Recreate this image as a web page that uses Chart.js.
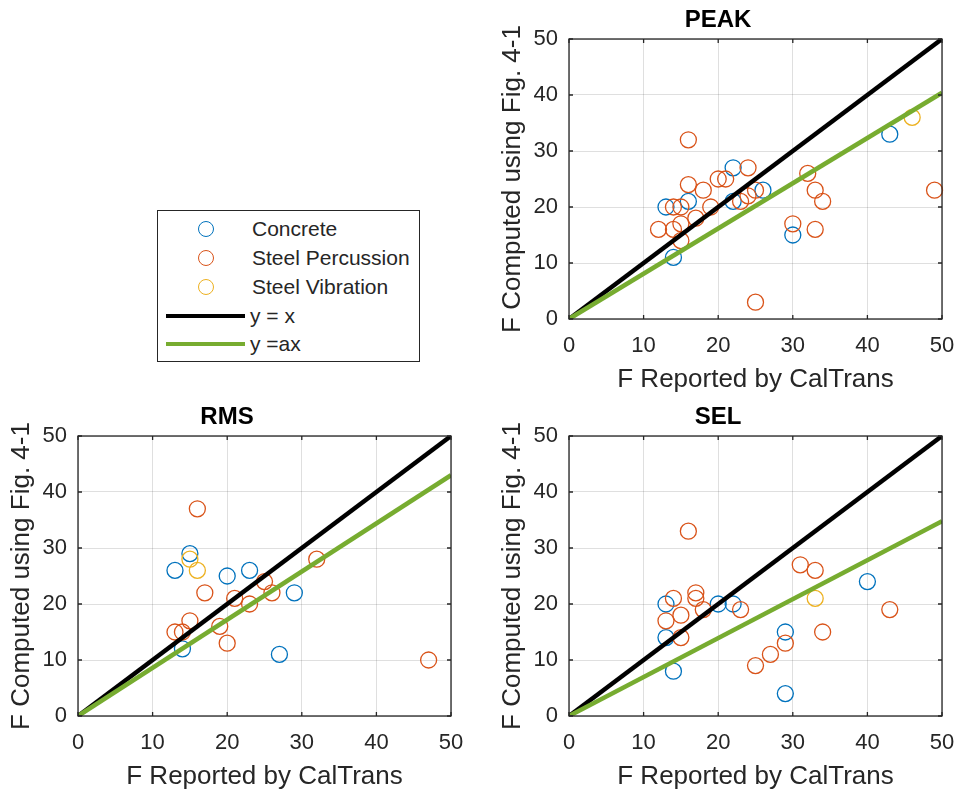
<!DOCTYPE html>
<html lang="en">
<head>
  <meta charset="UTF-8">
  <title>PEAK / RMS / SEL</title>
  <style>
    body {
      margin: 0;
      background: #fff;
      width: 960px;
      height: 792px;
      overflow: hidden;
      position: relative;
      font-family: 'Liberation Sans', Arial, sans-serif;
    }
    canvas { position: absolute; }
    .legend {
      position: absolute;
      left: 157px;
      top: 210px;
      width: 261px;
      height: 150px;
      border: 1px solid #262626;
      background: #fff;
    }
    .row {
      position: absolute;
      left: 0;
      width: 100%;
      height: 28px;
      font-size: 21px;
      color: #262626;
    }
    .row .mark { position: absolute; }
    .row .circle {
      left: 40px; top: 6px;
      width: 14px; height: 14px;
      border: 1.3px solid;
      border-radius: 50%;
    }
    .row .line { left: 8px; top: 12px; width: 79px; height: 4px; }
    .row span { position: absolute; left: 94px; top: 1px; line-height: 26px; }
  </style>
</head>
<body>
  <div class="legend" id="legend"></div>
  <canvas id="peak"></canvas>
  <canvas id="rms"></canvas>
  <canvas id="sel"></canvas>

  <script src="https://cdn.jsdelivr.net/npm/chart.js"></script>
  <script>
    // series names and colours (MATLAB defaults)
    const seriesNames = ['Concrete', 'Steel Percussion', 'Steel Vibration'];
    const seriesColors = ['#0072BD', '#D95319', '#EDB120'];
    const lineNames = ['y = x', 'y =ax'];
    const lineColors = ['#000000', '#77AC30'];

    // reference lines, y at x = 0 and x = 50
    const lineX = [0, 50];
    const identityY = [0, 50];
    const peakFitY = [0, 40.4];
    const rmsFitY = [0, 43];
    const selFitY = [0, 34.8];

    // PEAK
    const peakConcreteX = [22, 16, 13, 22, 26, 30, 14, 43];
    const peakConcreteY = [27, 21, 20, 21, 23, 15, 11, 33];
    const peakPercX = [16, 24, 20, 21, 16, 18, 14, 15, 19, 23, 25, 24, 32, 33, 34, 30, 33, 12, 14, 15, 17, 15, 25, 49];
    const peakPercY = [32, 27, 25, 25, 24, 23, 20, 20, 20, 21, 23, 22, 26, 23, 21, 17, 16, 16, 16, 17, 18, 14, 3, 23];
    const peakVibX = [46];
    const peakVibY = [36];

    // RMS
    const rmsConcreteX = [15, 13, 20, 23, 29, 14, 27];
    const rmsConcreteY = [29, 26, 25, 26, 22, 12, 11];
    const rmsPercX = [16, 32, 25, 17, 26, 21, 23, 15, 19, 13, 14, 20, 47];
    const rmsPercY = [37, 28, 24, 22, 22, 21, 20, 17, 16, 15, 15, 13, 10];
    const rmsVibX = [15, 16];
    const rmsVibY = [28, 26];

    // SEL
    const selConcreteX = [13, 20, 22, 40, 13, 29, 14, 29];
    const selConcreteY = [20, 20, 20, 24, 14, 15, 8, 4];
    const selPercX = [16, 31, 33, 43, 17, 17, 14, 23, 18, 15, 13, 15, 29, 34, 27, 25];
    const selPercY = [33, 27, 26, 19, 22, 21, 21, 19, 19, 18, 17, 14, 13, 15, 11, 9];
    const selVibX = [33];
    const selVibY = [21];

    const xTitle = 'F Reported by CalTrans';
    const yTitle = 'F Computed using Fig. 4-1';
    const FONT = "'Liberation Sans', Arial, sans-serif";
    const INK = '#262626';

    const pts = (xs, ys) => xs.map((x, i) => ({ x: x, y: ys[i] }));

    // frame round the plot with inward ticks, like MATLAB "box on"
    const boxPlugin = {
      id: 'box',
      afterDatasetsDraw(chart) {
        const { ctx, chartArea: a, scales: { x, y } } = chart;
        const tl = 4;
        ctx.save();
        ctx.strokeStyle = INK;
        ctx.lineWidth = 1.3;
        ctx.beginPath();
        x.ticks.forEach(t => {
          const p = x.getPixelForValue(t.value);
          ctx.moveTo(p, a.bottom); ctx.lineTo(p, a.bottom - tl);
          ctx.moveTo(p, a.top); ctx.lineTo(p, a.top + tl);
        });
        y.ticks.forEach(t => {
          const p = y.getPixelForValue(t.value);
          ctx.moveTo(a.left, p); ctx.lineTo(a.left + tl, p);
          ctx.moveTo(a.right, p); ctx.lineTo(a.right - tl, p);
        });
        ctx.stroke();
        ctx.strokeRect(a.left, a.top, a.right - a.left, a.bottom - a.top);
        ctx.restore();
      }
    };

    const Y_AXIS_W = 75, X_AXIS_H = 76, TITLE_H = 40;

    function makeChart(id, area, title, data, fitY) {
      const cv = document.getElementById(id);
      const w = area.right - area.left + 2 * Y_AXIS_W;
      const h = area.bottom - area.top + TITLE_H + X_AXIS_H;
      cv.width = w;
      cv.height = h;
      cv.style.left = (area.left - Y_AXIS_W) + 'px';
      cv.style.top = (area.top - TITLE_H) + 'px';

      const scatter = (i, xs, ys) => ({
        type: 'scatter',
        label: seriesNames[i],
        data: pts(xs, ys),
        borderColor: seriesColors[i],
        backgroundColor: 'rgba(0,0,0,0)',
        pointStyle: 'circle',
        pointRadius: 8,
        pointBorderWidth: 1.3,
        clip: false,
        order: 4 - i
      });
      const line = (i, ys) => ({
        type: 'line',
        label: lineNames[i],
        data: pts(lineX, ys),
        borderColor: lineColors[i],
        borderWidth: 4.5,
        pointRadius: 0,
        fill: false,
        order: 1 - i
      });

      return new Chart(cv.getContext('2d'), {
        type: 'scatter',
        data: {
          datasets: [
            scatter(0, data[0], data[1]),
            scatter(1, data[2], data[3]),
            scatter(2, data[4], data[5]),
            line(0, identityY),
            line(1, fitY)
          ]
        },
        options: {
          responsive: false,
          animation: false,
          devicePixelRatio: 1,
          layout: { padding: { left: 0, right: Y_AXIS_W, top: 0, bottom: 0 } },
          plugins: {
            legend: { display: false },
            tooltip: { enabled: false },
            title: {
              display: true,
              text: title,
              color: '#000',
              font: { family: FONT, size: 24, weight: 'bold', lineHeight: 1.2 },
              padding: { top: 6.5, bottom: 4.7 }
            }
          },
          scales: {
            x: {
              type: 'linear',
              min: 0, max: 50,
              ticks: { stepSize: 10, color: INK, padding: 14, font: { family: FONT, size: 22 }, maxRotation: 0 },
              grid: { color: 'rgba(38,38,38,0.15)', drawTicks: false },
              border: { display: false },
              title: { display: true, text: xTitle, color: INK, font: { family: FONT, size: 26 }, padding: { top: 0, bottom: 0 } },
              afterFit: s => { s.height = X_AXIS_H; }
            },
            y: {
              type: 'linear',
              min: 0, max: 50,
              ticks: { stepSize: 10, color: INK, padding: 11, font: { family: FONT, size: 22 } },
              grid: { color: 'rgba(38,38,38,0.15)', drawTicks: false },
              border: { display: false },
              title: { display: true, text: yTitle, color: INK, font: { family: FONT, size: 26 }, padding: { top: 3, bottom: 0 } },
              afterFit: s => { s.width = Y_AXIS_W; }
            }
          }
        },
        plugins: [boxPlugin]
      });
    }

    makeChart('peak', { left: 569, right: 942, top: 39, bottom: 319 }, 'PEAK',
      [peakConcreteX, peakConcreteY, peakPercX, peakPercY, peakVibX, peakVibY], peakFitY);
    makeChart('rms', { left: 78, right: 451, top: 436, bottom: 716 }, 'RMS',
      [rmsConcreteX, rmsConcreteY, rmsPercX, rmsPercY, rmsVibX, rmsVibY], rmsFitY);
    makeChart('sel', { left: 569, right: 942, top: 436, bottom: 716 }, 'SEL',
      [selConcreteX, selConcreteY, selPercX, selPercY, selVibX, selVibY], selFitY);

    // legend box
    const legend = document.getElementById('legend');
    const rowTops = [4, 33, 62, 91, 119];
    seriesNames.forEach((name, i) => {
      const r = document.createElement('div');
      r.className = 'row';
      r.style.top = rowTops[i] + 'px';
      r.innerHTML = '<div class="mark circle" style="border-color:' + seriesColors[i] + '"></div><span>' + name + '</span>';
      legend.appendChild(r);
    });
    lineNames.forEach((name, i) => {
      const r = document.createElement('div');
      r.className = 'row';
      r.style.top = rowTops[3 + i] + 'px';
      r.innerHTML = '<div class="mark line" style="background:' + lineColors[i] + '"></div><span style="left:92px">' + name + '</span>';
      legend.appendChild(r);
    });
  </script>
</body>
</html>
